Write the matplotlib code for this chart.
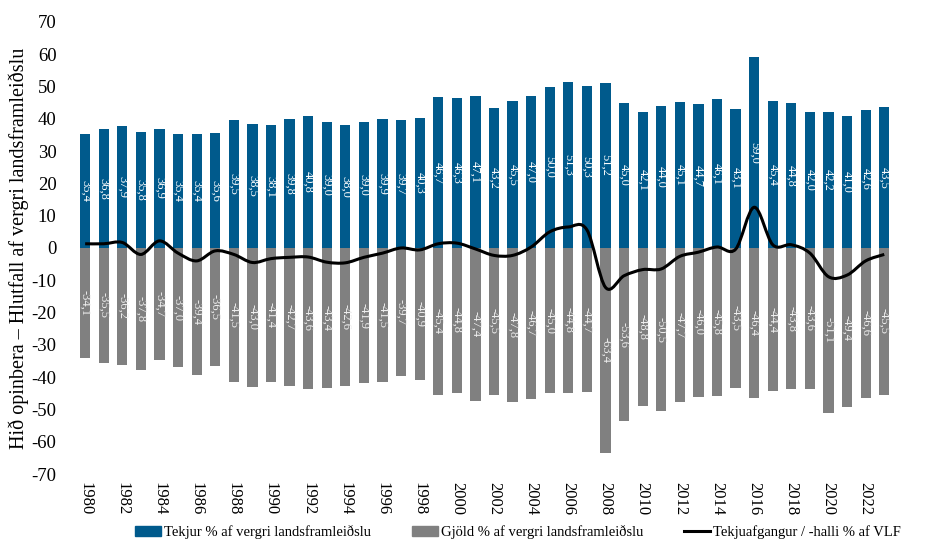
import matplotlib
matplotlib.use("Agg")
import matplotlib.pyplot as plt
import numpy as np
from matplotlib.path import Path
from matplotlib.patches import PathPatch, Patch
from matplotlib.lines import Line2D

plt.rcParams['font.family'] = ['Liberation Serif', 'DejaVu Serif']
plt.rcParams['axes.unicode_minus'] = False

ar = list(range(1980, 2024))

# Tekjur hins opinbera, % af VLF
tekjur = [35.4, 36.8, 37.9, 35.8, 36.9, 35.4, 35.4, 35.6, 39.5, 38.5,
          38.1, 39.8, 40.8, 39.0, 38.0, 39.0, 39.9, 39.7, 40.3, 46.7,
          46.3, 47.1, 43.2, 45.5, 47.0, 50.0, 51.3, 50.3, 51.2, 45.0,
          42.1, 44.0, 45.1, 44.7, 46.1, 43.1, 59.0, 45.4, 44.8, 42.0,
          42.2, 41.0, 42.6, 43.5]

# Gjöld hins opinbera, % af VLF
gjold = [-34.1, -35.5, -36.2, -37.8, -34.7, -37.0, -39.4, -36.5, -41.5, -43.0,
         -41.4, -42.7, -43.6, -43.4, -42.6, -41.9, -41.5, -39.7, -40.9, -45.4,
         -44.8, -47.4, -45.5, -47.8, -46.7, -45.0, -44.8, -44.7, -63.4, -53.6,
         -48.8, -50.5, -47.7, -46.0, -45.8, -43.5, -46.4, -44.4, -43.8, -43.6,
         -51.1, -49.4, -46.6, -45.5]

# Tekjuafgangur / -halli
jofnudur = [1.3, 1.3, 1.7, -2.0, 2.2, -1.6, -4.0, -0.9, -2.0, -4.5,
            -3.3, -2.9, -2.8, -4.4, -4.6, -2.9, -1.6, 0.0, -0.6, 1.3,
            1.5, -0.3, -2.3, -2.3, 0.3, 5.0, 6.5, 5.6, -12.2, -8.6,
            -6.7, -6.5, -2.6, -1.3, 0.3, -0.4, 12.6, 1.0, 1.0, -1.6,
            -8.9, -8.4, -4.0, -2.0]

blar = '#005a8c'
grar = '#808080'

fig = plt.figure(figsize=(9.25, 5.48), dpi=100)
ax = fig.add_axes([0.082, 0.135, 0.884, 0.825])

x = np.arange(len(ar))
ax.bar(x, tekjur, width=0.55, color=blar, zorder=2)
ax.bar(x, gjold, width=0.55, color=grar, zorder=2)

# gildi inni í súlunum
for i in range(len(ar)):
    ax.text(x[i], tekjur[i] / 2, f"{tekjur[i]:.1f}".replace('.', ','),
            rotation=270, ha='center', va='center', fontsize=9,
            color='white', zorder=3)
    ax.text(x[i], gjold[i] / 2, f"{gjold[i]:.1f}".replace('.', ','),
            rotation=270, ha='center', va='center', fontsize=9,
            color='#eeeeee', zorder=3)

# mjúk lína (Bezier á milli punkta)
p = np.column_stack([x, jofnudur]).astype(float)
verts = [p[0]]
codes = [Path.MOVETO]
n = len(p)
for i in range(n - 1):
    p0 = p[i - 1] if i > 0 else p[i]
    p3 = p[i + 2] if i + 2 < n else p[i + 1]
    c1 = p[i] + (p[i + 1] - p0) / 6
    c2 = p[i + 1] - (p3 - p[i]) / 6
    verts += [c1, c2, p[i + 1]]
    codes += [Path.CURVE4] * 3
ax.add_patch(PathPatch(Path(verts, codes), facecolor='none',
                       edgecolor='black', lw=2.2, zorder=4))

ax.set_xlim(-0.5, len(ar) - 0.5)
ax.set_ylim(-70, 70)
ax.set_yticks(range(-70, 71, 10))
ax.set_xticks(x[::2])
ax.set_xticklabels([str(a) for a in ar[::2]], rotation=270, fontsize=12)
ax.tick_params(axis='y', labelsize=13.5, length=0, pad=14)
ax.tick_params(axis='x', length=0, pad=6)
for s in ax.spines.values():
    s.set_visible(False)

ax.set_ylabel('Hið opinbera – Hlutfall af vergri landsframleiðslu', fontsize=14.5, labelpad=2)

handles = [Patch(color=blar), Patch(color=grar), Line2D([], [], color='black', lw=2.2)]
labels = ['Tekjur % af vergri landsframleiðslu',
          'Gjöld % af vergri landsframleiðslu',
          'Tekjuafgangur / -halli % af VLF']
fig.legend(handles, labels, loc='lower center', bbox_to_anchor=(0.56, -0.008),
           ncol=3, frameon=False, fontsize=10.5, handlelength=1.8,
           handletextpad=0.2, columnspacing=2.8)

fig.savefig('out.png', dpi=100)
